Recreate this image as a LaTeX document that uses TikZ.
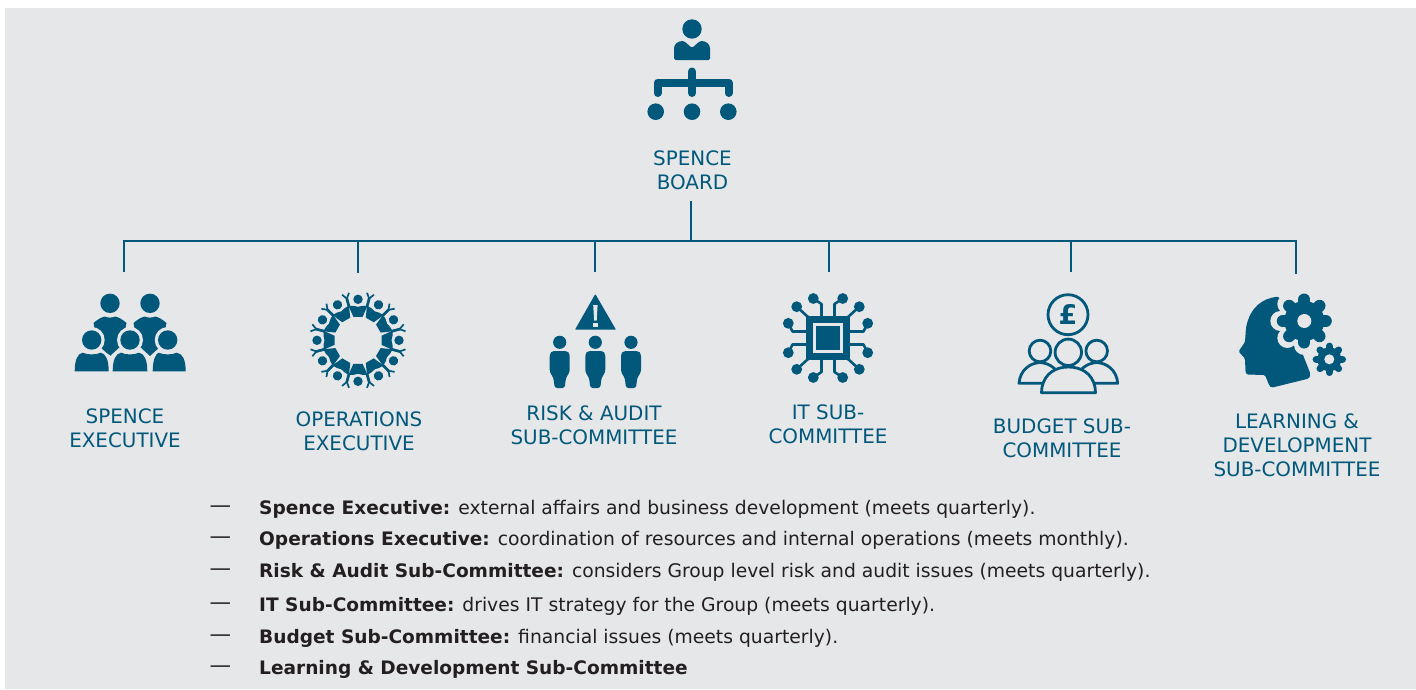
\documentclass[tikz,border=0pt]{standalone}
\usepackage{fontspec}
\setmainfont{DejaVu Sans}
\definecolor{brand}{HTML}{01587B}
\definecolor{panel}{HTML}{E6E7E9}
\definecolor{ink}{HTML}{231F20}
\tikzset{
  lab/.style={text=brand,align=center,inner sep=0pt,font=\fontsize{19.9}{24}\selectfont},
  itm/.style={text=ink,anchor=base west,inner sep=0pt,font=\fontsize{18.75}{22}\selectfont},
  dsh/.style={text=ink,anchor=base west,inner sep=0pt,font=\fontsize{21.5}{22}\selectfont},
  wire/.style={draw=brand,line width=2pt},
  trace/.style={draw=brand,line width=2.6pt,line join=round},
  iconline/.style={draw=brand,line width=2.8pt,line join=round,fill=panel},
}
\newcommand{\hd}[1]{{\fontsize{18.55}{22}\selectfont\bfseries #1}}
\newcommand{\gearshape}[6]{% x,y,reach,body,colour,tooth width
  \foreach \a in {0,45,...,315}{
    \draw[#5,line width=#6 pt,line cap=round] (#1,#2) -- ++(\a:#3-#6/2);
  }
  \fill[#5] (#1,#2) circle (#4);
}
\begin{document}
\begin{tikzpicture}[x=1pt,y=-1pt]
\useasboundingbox (0,0) rectangle (1416,689);
\fill[white] (0,0) rectangle (1416,689);
\fill[panel] (5,8) rectangle (1416,689);

% ---- connectors
\node[lab] (nboard) at (692.5,170.3) {SPENCE\\BOARD};
\coordinate (boardfoot) at (691,201);
\coordinate (hub) at (691,241);
\coordinate (busL) at (123,241);
\coordinate (busR) at (1297,241);
\coordinate (d1) at (124,272);
\coordinate (d2) at (358,273);
\coordinate (d3) at (595,272);
\coordinate (d4) at (829,272);
\coordinate (d5) at (1071,272);
\coordinate (d6) at (1296,274);
\draw[wire] (boardfoot) -- (hub);
\draw[wire] (busL) -- (busR);
\foreach \d in {d1,d2,d3,d4,d5,d6}{
  \draw[wire] (\d |- hub) -- (\d);
}

% ---- labels
\node[lab] (n1) at (125,428.3) {SPENCE\\EXECUTIVE};
\node[lab] (n2) at (359,431.3) {OPERATIONS\\EXECUTIVE};
\node[lab] (n3) at (594,425.3) {RISK \& AUDIT\\SUB-COMMITTEE};
\node[lab] (n4) at (828,424.3) {IT SUB-\\COMMITTEE};
\node[lab] (n5) at (1062,438.3) {BUDGET SUB-\\COMMITTEE};
\node[lab] (n6) at (1297,445.3) {LEARNING \&\\DEVELOPMENT\\SUB-COMMITTEE};

% ---- list
\foreach \n/\by/\tx in {
 l1/514/{\hd{Spence Executive:} external affairs and business development (meets quarterly).},
 l2/545/{\hd{Operations Executive:} coordination of resources and internal operations (meets monthly).},
 l3/577/{\hd{Risk \& Audit Sub-Committee:} considers Group level risk and audit issues (meets quarterly).},
 l4/611/{\hd{IT Sub-Committee:} drives IT strategy for the Group (meets quarterly).},
 l5/643/{\hd{Budget Sub-Committee:} financial issues (meets quarterly).},
 l6/674/{\hd{Learning \& Development Sub-Committee}}}{
  \node[itm] (\n) at (259,\by) {\tx};
  \node[dsh] (\n d) at (209.5,\by-2) {—};
}

% ---- board icon
\fill[brand] (692,29) circle (9.7);
\fill[brand,rounded corners=1.5pt] (674,60) -- (674,50) .. controls (674,44) and (678,41) .. (684,41) -- (692,48) -- (700,41) .. controls (706,41) and (710,44) .. (710,50) -- (710,60) -- cycle;
\draw[brand,line width=8pt,line cap=round,line join=round] (657.5,93) -- (657.5,82.5) -- (728.5,82.5) -- (728.5,93);
\draw[brand,line width=8pt,line cap=round] (692,71.5) -- (692,93);
\foreach \x in {655.7,692,728.3}{\fill[brand] (\x,111.7) circle (8.3);}

% ---- Spence executive icon
\foreach \x in {110,150}{
  \fill[brand] (\x,303.3) circle (9.7);
  \fill[brand] (\x-16.5,323) .. controls (\x-12,319) and (\x-8,317) .. (\x-5,316.5) .. controls (\x-2,318) and (\x+2,318) .. (\x+5,316.5) .. controls (\x+8,317) and (\x+12,319) .. (\x+16.5,323) -- (\x+12,345) -- (\x,356) -- (\x-12,345) -- cycle;
}
\foreach \x in {91.7,130,167.7}{\fill[panel] (\x,340) circle (13);}
\foreach \x/\l/\r in {91.7/74.7/108.7,130/112.7/147.3,167.7/152.7/185.7}{
  \fill[panel] (\l-3.5,374) -- (\l-3.5,358) .. controls (\l,349) and (\r,349) .. (\r+3.5,358) -- (\r+3.5,374) -- cycle;
}
\foreach \x/\l/\r in {91.7/74.7/108.7,130/112.7/147.3,167.7/152.7/185.7}{
  \fill[brand] (\x,340) circle (9.7);
  \fill[brand] (\l,371.3) .. controls (\l,360) and (\l+3,353.5) .. (\x-9,352.7) .. controls (\x-4,355) and (\x+4,355) .. (\x+9,352.7) .. controls (\r-3,353.5) and (\r,360) .. (\r,371.3) -- cycle;
}

% ---- operations icon
\foreach \a in {0,30,...,330}{
  \begin{scope}[shift={(358,340.3)},rotate=\a]
    \fill[brand] (0,-41) circle (4.7);
    \fill[brand] (-4.6,-23.5) -- (4.6,-23.5) -- (8.2,-31.5) -- (9.4,-34.5) -- (4.5,-34.5) -- (0,-33.5) -- (-4.5,-34.5) -- (-9.4,-34.5) -- (-8.2,-31.5) -- cycle;
    \draw[brand,line width=2.4pt,line join=round] (-9,-33) -- (-11.2,-42);
    \draw[brand,line width=2.4pt,line join=round] (9,-33) -- (11.2,-42);
    \draw[brand,line width=1.7pt] (-11.2,-41.5) -- (-9,-47.5);
    \draw[brand,line width=1.7pt] (11.2,-41.5) -- (9,-47.5);
  \end{scope}
}

% ---- risk icon
\fill[brand,rounded corners=0.6pt] (595.3,294) -- (616,329.7) -- (575,329.7) -- cycle;
\fill[panel] (593.2,305) -- (597.6,305) -- (596.7,320.5) -- (594.1,320.5) -- cycle;
\fill[panel] (592.6,322.5) rectangle (598,326.5);
\foreach \x in {559.7,595.3,631}{
  \fill[brand] (\x,342.3) circle (6.6);
  \fill[brand,rounded corners=2.5pt] (\x-10,354) -- (\x-7.5,351) -- (\x+7.5,351) -- (\x+10,354) -- (\x+10,372) -- (\x+6.2,378) -- (\x+5,388) -- (\x-5,388) -- (\x-6.2,378) -- (\x-10,372) -- cycle;
}

% ---- IT icon
\begin{scope}[shift={(828,338)}]
\fill[brand] (-22,-22) rectangle (22,22);
\fill[panel] (-15.3,-15.3) rectangle (15.3,15.3);
\fill[brand] (-11.7,-11.7) rectangle (11.7,11.7);
\foreach \sx in {-1,1}{\foreach \sy in {-1,1}{
  \draw[trace] (\sx*6.5,\sy*22) -- (\sx*6.5,\sy*34) -- (\sx*14.7,\sy*39.5);
  \fill[brand] (\sx*14.7,\sy*39.5) circle (5.4);
  \draw[trace] (\sx*20,\sy*21) -- (\sx*31.3,\sy*31.3);
  \fill[brand] (\sx*31.3,\sy*31.3) circle (5.4);
  \draw[trace] (\sx*22,\sy*6.5) -- (\sx*35.5,\sy*6.5) -- (\sx*39.7,\sy*14.7);
  \fill[brand] (\sx*39.7,\sy*14.7) circle (5.4);
}}
\end{scope}

% ---- budget icon
\draw[brand,line width=2.8pt] (1068,314.7) circle (20);
\node[text=brand,inner sep=0pt,font=\fontsize{27}{27}\selectfont\bfseries] (pound) at (1068,314.7) {£};
\foreach \x/\sg in {1040/1,1096.7/-1}{
  \draw[iconline] (\x+\sg*-21,383.3) .. controls (\x+\sg*-20,370) and (\x+\sg*-10,363) .. (\x,362.5) .. controls (\x+\sg*10,363) and (\x+\sg*20,370) .. (\x+\sg*22,383.3) -- cycle;
  \draw[iconline] (\x,351) circle (10.8);
}
\draw[iconline] (1041.5,392.7) -- (1042,387) .. controls (1045,373) and (1056,367) .. (1068.3,367) .. controls (1081,367) and (1092,373) .. (1095,387) -- (1095.5,392.7) -- cycle;
\draw[iconline] (1068.3,352.3) circle (13.2);

% ---- head and gears icon
\fill[brand,rounded corners=1.5pt] (1279,296.7) .. controls (1262,298) and (1250,308) .. (1246,328) -- (1245,342) -- (1238.5,351.5) -- (1245,358.5) -- (1245.5,372) -- (1246.5,374.5) -- (1265,375) -- (1269.5,386) -- (1271.5,387.7) -- (1309,378.5) -- (1310.5,374) -- (1303,355) -- (1300,340) -- (1285,310) -- cycle;
\gearshape{1304.3}{321}{34}{26.5}{panel}{20}
\gearshape{1304.3}{321}{27.5}{20}{brand}{12}
\fill[panel] (1304.3,321) circle (7);
\gearshape{1329.3}{359.3}{16.7}{12}{brand}{7}
\fill[panel] (1329.3,359.3) circle (5);
\end{tikzpicture}
\end{document}
